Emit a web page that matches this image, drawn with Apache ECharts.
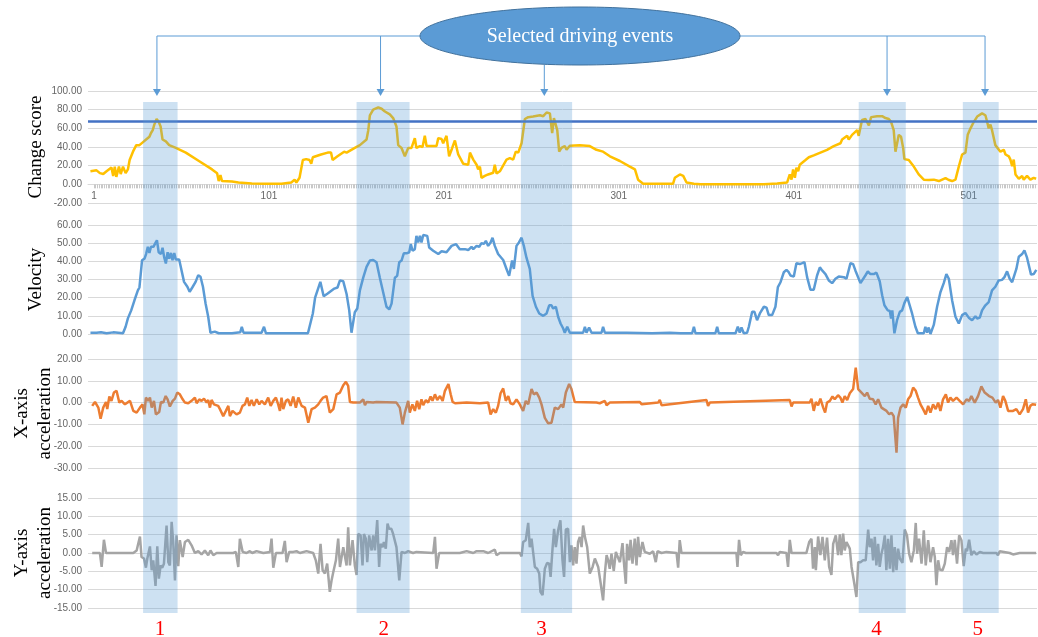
<!DOCTYPE html>
<html>
<head>
<meta charset="utf-8">
<script src="https://cdn.jsdelivr.net/npm/echarts@6/dist/echarts.min.js"></script>
<style>
  html, body { margin: 0; padding: 0; background: #fff; }
  #chart { width: 1038px; height: 637px; }
</style>
</head>
<body>
<div id="chart"></div>
<script>
// sample index (1-based) and value
const changeScore = [[-1,14],[2.5,15],[4.4,12],[6.3,11],[8.2,14],[11,18],[12,9],[12.9,19],[13.8,8],[15.3,19],[16.3,11],[17.6,19],[19.1,12],[20.4,16],[21.4,26],[23.3,35],[25.2,42],[27,42],[28.9,45],[30.8,48],[32.7,51],[33.6,55],[34.6,58],[35.5,64],[36.8,70],[38,67],[39.1,62],[40.2,48],[42.1,46],[44,42],[47.8,39],[53.5,34],[61,25],[68.5,16],[71.4,12],[72.3,3.5],[73.3,10],[74.2,3.5],[79.9,3],[83.6,2],[91.2,1],[98.7,0.7],[108.2,0.7],[113.8,2],[115.7,5],[116.7,2],[118.5,7],[120.4,26],[122.3,27],[124.2,26],[125.2,22],[126.1,29],[130.8,32],[134.6,34],[136.5,34],[137.4,26],[140.2,30],[144,35],[145.4,34],[150.1,39],[153,42],[156.8,48],[157.8,58],[158.7,74],[160.6,80],[163.5,82.5],[165.4,81],[167.3,78],[170.1,75],[172,71],[173.9,62],[174.9,42],[176.8,39],[178.7,30],[180.6,39],[182.5,39],[184.4,49.5],[185.3,39],[187.3,41],[188.8,40],[190.1,52],[191.1,41],[196.8,41],[197.8,49.5],[199.7,48.5],[200.6,44],[202.5,52],[204,30],[205.4,37],[206.3,42],[207.3,47],[209.2,32],[212.1,22],[214.9,21],[215.9,34],[217.8,26.5],[219.7,21],[220.6,16],[221.6,19],[222.5,7],[224.4,9],[226.3,10.6],[229.2,12.4],[230.1,21],[231.1,11.7],[233,14],[236.8,26.5],[238.7,28],[240.6,26.5],[242.1,35],[243.5,34],[245.4,44],[247.3,70],[249.2,72],[252,72.6],[255.9,74],[257.8,73],[259.7,77],[261.6,76],[262.9,55],[263.9,71],[265,73],[265.8,58],[266.9,35],[268.2,39],[270.1,41],[271.1,37],[273,41.4],[278.7,42],[284.4,41],[288.2,37],[292,35],[295.9,30],[301.6,25],[307.3,19],[310.2,16],[312,5],[314.9,0.7],[322.5,0.7],[332,0.7],[333,7],[335.9,10.6],[337.8,9],[339.7,2],[343.9,0.7],[347.7,0],[364.8,0],[383.9,0],[391.5,1],[397.2,2],[398.7,10.6],[399.7,5],[400.6,16],[401.6,7],[402.5,17.7],[403.5,14],[404.4,21],[407.7,26],[409.6,29],[412.4,31],[416.2,34],[420,37],[423.8,41],[427.7,44],[428.6,48],[429.6,46],[431.5,52],[432.4,48],[434.3,53],[435.3,51],[437.2,58],[438.1,52],[440,69],[442,70],[443.9,63],[445.2,72],[448.6,73],[451.5,73],[453.4,71],[455.3,70],[456.6,67],[458.1,58],[459.1,35],[460,37],[461,53],[462.3,51],[463.5,39],[464.2,27],[466.7,26],[469.6,19],[472.4,10.6],[475.3,5],[478.1,4.6],[481,5],[483.9,3.5],[487.7,6.7],[489.6,4.6],[491.5,3.5],[493.4,5],[495.3,19],[497.2,32],[499.1,34],[500.4,53],[502,60],[503.9,67],[505.8,72.6],[508.6,76],[510.5,74],[511.5,67],[512.4,60],[513.4,64],[514.3,58],[516.2,42],[519.1,35],[521,37],[522,32],[523.9,30],[524.8,26.5],[525.8,19.5],[526.7,26.5],[527.7,10.6],[529.6,6],[531.5,9],[532.4,5],[534.3,9],[536.2,5],[538.1,7],[539.5,6]];

const velocity = [[-1,0.7],[2.5,0.7],[5,1],[8.2,0.4],[12,0.9],[17.6,0.4],[19.1,4],[20.4,8.6],[22.3,13],[24.2,18.7],[26.1,24],[27,25.6],[28.5,40.6],[29.9,41.5],[30.8,44],[31.8,48],[32.7,44.6],[33.6,48],[35,48],[36.1,50],[37,51.6],[38,45],[39.3,44],[40.2,47.5],[41.2,42],[42.1,38.8],[43.1,45],[44,41.5],[45,44.6],[45.9,40.6],[46.9,44.6],[47.8,41],[49.7,41],[50.6,40.6],[52.5,28.7],[54.4,26],[55.7,23.2],[57.2,25.6],[59.1,28.7],[60.6,32.4],[61.9,31.5],[63.3,26],[64.8,16.8],[66.3,9.5],[67.6,0.7],[70.1,1.3],[72.3,0.4],[79.9,0.4],[84.6,0.9],[85.5,4],[86.5,0.7],[96.8,0.7],[98.2,4],[99.3,0.4],[110,0.4],[123.3,0.4],[126.1,11.3],[127.4,20],[128.5,20],[130.4,28.7],[132.3,20.8],[134.6,22.3],[138.4,25],[140.2,25.6],[141.6,29.5],[143.5,29],[145.4,22],[146.9,13],[148.2,0.7],[150.1,12],[151.5,14],[153,24],[154.9,31],[156.8,37],[158.7,40.4],[160.6,40.7],[162.5,39.5],[164.4,31],[166.3,23],[168.2,15],[169.8,13.5],[171.1,16.7],[173,31],[174.3,32],[175.5,39.5],[176.8,40.4],[178.1,44.4],[179.7,44.4],[181.2,45],[182.1,49.5],[183.1,45.8],[184.4,46.7],[185.3,54],[186.3,50.4],[187.3,54],[188.2,50.4],[189.2,54.5],[191.5,54],[192.6,47.6],[194.9,45.8],[197.8,44],[199.7,45.5],[202.5,45],[205.4,48.5],[207.9,49.5],[210.1,46.7],[213,46.7],[214.9,46.2],[216.8,48],[217.8,46.7],[219.7,48.5],[221.2,48],[222.5,50],[223.9,49.6],[225,51.3],[226.3,48.5],[227.7,50.4],[228.8,53],[230.1,48.5],[232,44],[234.9,40.7],[236.8,35.8],[238.3,32],[239.1,33],[240,40.4],[241,35.8],[242.5,48.5],[243.9,50.4],[245.4,53],[246.7,48.5],[248.2,42],[250.1,35.8],[251.7,21],[253.6,15],[255.5,11.3],[257.8,10],[259.7,11.3],[261.2,15.8],[262.5,15.8],[263.5,14],[265,15],[266.3,9.5],[267.7,5.8],[269.2,3],[270.1,0.7],[271.5,4],[273,0.7],[280.6,0.7],[281.6,4],[282.5,0.7],[284,3.6],[285.4,0.7],[291.1,0.7],[292,4],[293,0.7],[305.4,0.7],[320,0.4],[330.1,0.7],[336.2,0.4],[342.9,0.4],[343.9,4],[344.8,0.4],[356.2,0.4],[357.2,4],[358.1,0.4],[367.7,0.4],[369,4],[370.1,0.7],[371.1,3.6],[372.4,0.4],[374.3,0.7],[375.3,4],[377.2,12.2],[378.5,12.2],[380,7.6],[381.6,11.3],[383.9,15],[385.4,14.5],[386.7,10.4],[388.6,10.4],[390.5,15],[391.9,25.8],[393.4,28.5],[395.3,34],[396.8,35.3],[398.1,34],[399.1,32.2],[401,31.6],[402.5,39],[404.4,38.5],[405.8,39],[407.1,39.5],[408.6,31.3],[410.5,24.4],[412.4,24.4],[414.3,32.2],[415.9,36.7],[417.2,35],[419.1,33],[421,29.5],[422.9,28],[424.8,30.4],[426.7,31.6],[429.6,31.3],[431.1,30.4],[433.4,39],[434.9,38.5],[436.2,35],[439.1,28],[441.9,32.2],[443.3,34.4],[444.8,33],[446.7,33],[448.2,33.8],[450.1,29],[451.5,21.3],[452.8,15.8],[454.7,13],[455.9,12.7],[456.6,8.5],[457.3,13],[458.5,0.4],[460,7.6],[461.6,12.2],[462.9,13],[464.2,17],[465.8,20.4],[466.7,20],[468.6,11.3],[470.5,4],[471.9,0.4],[475.3,0.4],[476.2,4],[477.2,0.7],[478.1,3.6],[479.1,0],[481,5],[482.9,15],[484.8,23],[486.7,28],[488.2,33],[489.6,30.4],[491.5,18.5],[493.4,9.5],[495.3,5.8],[497.2,10.4],[499.1,11.6],[501,9],[502.9,7.6],[504.8,9.8],[505.8,8.5],[507.3,9],[508.6,13],[510.5,15.8],[512.4,17.6],[514.3,24],[516.2,26],[518.1,29.5],[520,29.8],[521.4,31.3],[522.9,34.5],[524.4,30.4],[525.8,28.5],[526.7,29],[528.2,35.8],[529.6,42.5],[531.5,44],[532.8,46],[534.3,42],[536.6,32.7],[538.1,33],[539.6,35.3]];

const xAccel = [[0,-1.5],[1.6,0.3],[3.5,-2.3],[4.8,-7.4],[6.3,-2.3],[7.9,0.3],[8.6,-3],[9.8,2.8],[11,0.8],[12.4,4.6],[13.9,5.4],[15.5,0],[16.8,0.8],[18.7,-0.8],[21.6,0.8],[23.5,-3.8],[25.4,-4.6],[27.3,-2.3],[28.8,-0.8],[29.8,-5.4],[30.7,2.3],[32,0.8],[33,2.3],[34,-2.3],[35.3,0.8],[36.4,-5.4],[38.3,-4.3],[39.3,0.3],[40.6,0],[42,3],[43.1,1.5],[44.4,-1.8],[46,0.8],[47.3,1.8],[48.6,4.6],[50.1,3.8],[51.7,1.5],[53,0],[54.9,-0.3],[56.8,0.8],[58.7,2.3],[59.7,-0.3],[61.2,1.5],[62.5,0.8],[63.9,1.8],[65.4,0],[66.3,1.2],[67.3,-2.3],[68.2,1.2],[69.6,-0.8],[72,-1.5],[73,-3],[74.9,-6.2],[76.4,-3.8],[77.8,-1.5],[78.7,-6.2],[80.2,-3.8],[82.5,-5.4],[84.4,-4.6],[85.9,-1.5],[87.3,-0.8],[88.6,2.3],[89.8,-1.5],[91.1,1.2],[92.4,-1.5],[94,1.5],[95.5,-0.8],[96.8,0.8],[98.7,-0.8],[100.6,2.3],[102,-1.5],[103.5,0.8],[105,2.3],[106.3,-0.8],[107.3,-3.8],[108.2,2.3],[109.2,-3],[110.7,0.8],[112,1.5],[113.4,-1.5],[114.9,2.8],[116.4,-2.3],[117.8,2.3],[119.7,-1.5],[121.6,-2.3],[123.5,-9.2],[125.4,-3],[127.3,-2.3],[129.2,-0.8],[130.5,0.8],[132,2.3],[133.9,3],[135.8,-4.6],[137.8,-3],[139.7,3.8],[141.6,4.6],[143.5,8],[145,9.5],[146.3,7.7],[147.3,0.3],[149.2,0],[153,0],[154.9,1.5],[155.9,-1.2],[156.8,0.3],[160.6,0],[162.5,0.3],[173.9,0],[175.8,-2.3],[177.4,-10],[178.7,-4.6],[180.6,0.8],[181.5,-4.6],[183,-0.8],[184.4,-3.8],[185.7,0.8],[186.9,-3],[188.2,1.5],[189.2,-1.2],[190.7,1.2],[192,0],[193.4,2.8],[194.5,0.8],[195.9,3.8],[197.2,1.2],[198.8,3],[200.3,0.8],[201.6,5.4],[203.6,8.5],[204.9,3.8],[206,0.3],[207.4,-0.3],[214,0],[221.6,-0.3],[226.3,0],[227.7,-5.4],[229.2,-3],[230.7,-4.6],[232,-1.5],[233.4,4.3],[234.9,6.5],[236.4,0.8],[237.8,3],[239.1,-0.3],[240.6,-0.8],[242.5,1.5],[244.4,-0.8],[246.3,-3.8],[247.8,0.8],[249.2,-0.8],[251.1,6.2],[252.4,3.8],[254,4.6],[255.5,2.3],[256.8,-0.8],[258.7,-7],[260.6,-9.5],[262.5,-9.2],[264.4,-2.3],[266.3,-3],[268.2,-0.8],[269.2,-2.3],[270.7,4.6],[272.6,8.5],[273.9,6.2],[275.8,0.3],[276.8,-0.3],[288.2,0],[289.2,0.8],[290.1,-0.3],[293,0.8],[294,-1.2],[295.8,0],[313,0.3],[314,-0.8],[323.5,0],[324.4,1.2],[325.4,-1.2],[351.1,1.2],[352,-1.5],[353,0],[398.7,1.2],[399.7,-1.8],[400.6,0],[410.1,0],[411.1,1.8],[412.4,-3.8],[413.6,0.3],[414.9,-1.2],[416.2,1.8],[417.8,-2.3],[418.9,-4.6],[420,0],[421.6,0.8],[423.1,2.8],[424.4,1.5],[426.3,3.4],[427.6,2.3],[428.8,0],[430.1,3],[431.5,1.2],[433,4.3],[434.9,6.2],[436.4,16],[437.8,6.2],[439.7,4.6],[441.6,3],[442.9,4.6],[444.4,1.8],[446.3,1.5],[447.8,-0.8],[449.2,1.5],[451.1,-2.3],[452.4,-3],[454,-3.8],[455.5,-5.4],[456.8,-4.6],[458.1,-6.2],[459.7,-23],[460.6,-7],[462,-2.3],[463.5,-0.8],[465,-2.3],[466.3,1.5],[467.7,3],[469.2,6.9],[470.7,5.4],[472,2.3],[473.4,-0.8],[474.9,-3],[476.4,-5.4],[477.8,-1.5],[479.1,-4.6],[480.6,-0.8],[482.1,-3],[483.5,0],[484.8,-3.8],[486.3,1.5],[487.9,3.8],[489.2,0],[490.5,2.3],[492,0.8],[494,2.3],[495.8,0.8],[497.8,-0.8],[499.7,1.5],[501.2,0.8],[502.5,3],[504.4,0],[506.3,3],[508.2,7.4],[510.1,4.6],[512.6,3],[514.5,2.3],[516.4,0],[517.7,1.2],[519.1,-2.3],[520.6,3],[521.9,0.8],[523.5,-3.8],[526.3,-3.8],[528.2,-3],[530.1,-5.4],[532,-3],[533.6,1.5],[534.9,-4.6],[536.2,-1.5],[537.4,-0.8],[539.5,-1]];

const yAccel = [[0,0],[4.4,0],[5.4,-3.8],[6.7,3.6],[7.9,0],[23.5,0],[25.4,0.7],[26.3,2.5],[27.3,4.5],[28.2,-1.1],[29.6,-1.5],[30.7,-4],[31.5,-1.5],[33,1.8],[34,-4.7],[34.9,-2],[36.2,-9],[37.2,1.8],[38.1,-7],[39.1,-3.4],[40,-4],[41,-2.9],[42.5,7.5],[43.5,-2.5],[44.4,-3.4],[45.4,8.5],[46.3,3],[47.3,-7.5],[48.2,4.8],[49.2,-3.6],[50.1,3.5],[51.7,-1.1],[53,3],[54.9,3.6],[56.8,2.1],[58.7,0],[60.6,0.5],[62.5,-0.4],[64.4,0.7],[66.3,-0.6],[67.6,0.7],[69.2,-0.6],[71.1,0],[80.6,0],[82.1,0.3],[83.5,-3.8],[84.4,3.9],[86,0.3],[88.2,0],[90.1,0.5],[91.5,0],[93.9,0.5],[97.8,0],[101.6,0.3],[102.5,3.9],[103.5,-4],[105,0],[108.8,0],[110.1,3.3],[111.1,-2.5],[112.6,0.3],[114.9,0.3],[116.8,0.5],[118.7,0],[122.5,0.5],[126.3,0],[127.8,-2],[129.2,-5.6],[130.5,2.5],[131.7,-4.7],[133,-5.6],[134.3,-2.9],[135.8,-10.6],[136.8,-7.5],[137.8,-5.2],[139.3,-2],[140.6,3.9],[141.6,-3.8],[142.5,-3.8],[143.5,1.6],[145.4,-3.4],[146.3,7],[147.3,-3.4],[148.8,3.5],[150.1,-3.4],[151.1,-6],[152,5.2],[153.4,4.8],[154.5,-3.4],[155.3,5.2],[156.4,3.9],[157.2,-2.5],[158.3,4.8],[159.7,0.7],[160.6,4.8],[161.6,0.7],[162.9,9],[164,-3.8],[164.8,2.5],[166,1.6],[166.7,3],[167.8,1.2],[168.8,8],[169.7,6.6],[171,6.6],[172,5.2],[173.9,1.6],[175.5,-7.5],[176.8,0.3],[178.7,0],[180.6,0.5],[183.4,0],[185.3,0.3],[194.9,0],[195.9,4.4],[196.8,-4.3],[198.3,0],[206.3,0],[207.3,0.5],[210.1,0],[214,0.5],[217.8,0],[219.7,0.5],[223.5,0.5],[226.3,0],[230.1,0.9],[231.1,-0.6],[233,0],[244.4,0],[245.4,-0.9],[246.3,3],[247.8,3.5],[249.2,8.2],[250.1,1.6],[251.1,3.9],[252,3.5],[253,-3.8],[254.3,-4.3],[255.5,-5.6],[256.2,-10.6],[257.4,-11.5],[258.7,-4.3],[260,-2.7],[261.2,-2.9],[262,-6.5],[263.1,1.2],[264,6.6],[265,1.6],[266.3,6.2],[267.6,8.9],[268.8,-2],[269.7,-6.5],[270.7,6.4],[272,6.6],[273,-2.5],[273.9,2.1],[274.9,-3.4],[275.8,1.6],[276.8,-2.9],[277.7,3],[278.7,4.4],[279.7,1.6],[280.6,7.5],[281.6,4.4],[282.9,1.6],[284.4,-5.6],[286,-3.8],[287.3,-1.5],[288.2,-2],[289.2,-3.8],[290.5,-7.9],[292,-12.9],[293,-5.6],[294,-0.6],[294.9,-2],[295.8,-4.3],[296.8,-0.2],[298.1,-4.9],[299.3,0.3],[300,-0.6],[301.6,-2.5],[303.1,2.7],[303.8,-2],[305,-8.4],[305.7,2.5],[306.9,-2],[307.7,3.6],[308.8,-2.9],[310.1,3.9],[311.1,-3.4],[312,4.4],[313,-1.1],[314.5,3],[315.8,0.3],[318.7,-0.2],[320.6,0.5],[322.1,-2.5],[323.1,0.5],[325.4,0],[328.2,0.3],[334,0],[334.9,-4],[335.8,3.5],[336.8,0],[347.3,0],[348.2,0.5],[349.2,0],[368.2,0],[368.8,-3.8],[369.7,3.6],[370.7,-0.6],[372,0.3],[373.6,0],[391.1,0],[392,-0.6],[393,0.3],[396.8,0],[397.7,-3.8],[398.7,3.6],[399.7,0],[408.2,0],[409.8,3],[411.1,3.9],[412,-4.3],[413,1.6],[413.6,-4.7],[414.9,4.5],[416.2,-0.6],[417.4,4.4],[418.7,-2],[420,4.2],[421.2,-3.8],[422.5,-6],[423.5,2.5],[425,4.8],[426.3,-0.6],[427.3,5.1],[428.2,-0.6],[429.2,5.3],[430.1,0.7],[431.1,3],[432,3.5],[433,1.2],[434,-3.8],[435.3,-7.5],[436.8,-12],[437.8,-2.5],[439.1,-2.5],[440.6,-2],[442.1,-2],[443.5,6.4],[444.4,1.6],[445.4,3.9],[446.3,-2],[447.3,4.4],[448.2,-3.4],[449.2,2.5],[450.1,-3.8],[451.1,-0.2],[452,1.6],[453,4.8],[453.9,-4.7],[454.9,3.9],[455.9,-4.3],[456.8,4.8],[457.8,-5.2],[458.7,1.6],[459.7,-4.7],[460.6,1.2],[461.6,-1.5],[463.1,-2.7],[464.4,6.4],[465.7,4.8],[466.9,-0.2],[468.2,-2.5],[469.6,0.7],[470.7,8.2],[471.5,-0.2],[472.6,3.9],[474,-2.9],[475.3,6.2],[476.4,-3.4],[477.8,3.5],[479.1,-2.5],[480.6,1.6],[481.6,-1.1],[482.5,-8.8],[483.5,-2],[484.4,-4.5],[486,-4.7],[487.3,-2.9],[488.6,1.6],[489.8,0.3],[491.1,3.5],[492,-0.6],[493,3.6],[494.3,-2.9],[495.5,4.8],[496.8,3.5],[498.1,-3.6],[499.3,1.2],[500,0.5],[501.2,3.6],[502.5,-0.6],[503.9,0.5],[505.4,-0.4],[507.3,0.3],[509.2,0],[516.8,0],[517.7,-0.6],[518.7,0.5],[524.4,0],[525.4,0.5],[526.3,-0.4],[530.1,0],[531.1,0.5],[539.5,0]];

const threshold = 68;
const xTickLabels = [1, 101, 201, 301, 401, 501];
// selected events: start / end index of each shaded band, arrow and number positions
const eventStart = [29.1, 151.1, 245, 438.1, 497.6];
const eventEnd = [48.8, 181.4, 274.3, 465, 518.1];
const eventArrowX = [37, 164.8, 258.4, 454.3, 510.3];
const eventLabelX = [38.7, 166.7, 256.8, 448.3, 506.1];
const eventNames = ['1', '2', '3', '4', '5'];
const calloutText = 'Selected driving events';

const dense = [];
for (let i = 1; i <= 539; i++) dense.push(i);

const chart = echarts.init(document.getElementById('chart'));

const grids = [
  { left: 88, right: 1, top: 91, height: 112, outerBoundsMode: 'none' },
  { left: 88, right: 1, top: 225, height: 109, outerBoundsMode: 'none' },
  { left: 88, right: 1, top: 359, height: 109, outerBoundsMode: 'none' },
  { left: 88, right: 1, top: 498, height: 110, outerBoundsMode: 'none' },
];
const yRanges = [
  { min: -20, max: 100, interval: 20, name: 'Change score', gap: 40 },
  { min: 0, max: 60, interval: 10, name: 'Velocity', gap: 40 },
  { min: -30, max: 20, interval: 10, name: 'X-axis\nacceleration', gap: 31 },
  { min: -15, max: 15, interval: 5, name: 'Y-axis\nacceleration', gap: 31 },
];

const xAxes = grids.map((g, i) => ({
  type: 'value',
  gridIndex: i,
  min: -2.4,
  max: 540,
  show: i === 0,
  splitLine: { show: false },
  axisLine: { onZero: true, lineStyle: { color: '#d9d9d9', width: 1 } },
  axisTick: { customValues: dense, length: 4, lineStyle: { color: '#c8c8c8' } },
  axisLabel: { customValues: xTickLabels, color: '#666', fontSize: 10, fontFamily: 'Liberation Sans', margin: -12 },
}));

const yAxes = yRanges.map((r, i) => ({
  type: 'value',
  gridIndex: i,
  min: r.min,
  max: r.max,
  interval: r.interval,
  name: r.name,
  nameLocation: 'middle',
  nameRotate: 90,
  nameGap: r.gap,
  nameMoveOverlap: false,
  nameTextStyle: { fontFamily: 'Liberation Serif', fontSize: 19, color: '#000', lineHeight: 23 },
  axisLine: { show: false },
  axisTick: { show: false },
  axisLabel: { color: '#666', fontSize: 10, fontFamily: 'Liberation Sans', margin: 6,
    formatter: v => v.toFixed(2) },
  splitLine: { lineStyle: { color: '#d9d9d9', width: 1 } },
}));

function lineSeries(data, idx, color, extra) {
  return Object.assign({
    type: 'line',
    xAxisIndex: idx,
    yAxisIndex: idx,
    data: data,
    showSymbol: false,
    lineStyle: { color: color, width: 2.5 },
    itemStyle: { color: color },
    animation: false,
  }, extra || {});
}

chart.setOption({
  animation: false,
  grid: grids,
  xAxis: xAxes,
  yAxis: yAxes,
  series: [
    lineSeries(changeScore, 0, '#FFC000', {
      markLine: {
        silent: true,
        symbol: 'none',
        label: { show: false },
        lineStyle: { color: '#4472C4', width: 2.5, type: 'solid' },
        data: [{ yAxis: threshold }],
      },
    }),
    lineSeries(velocity, 1, '#5B9BD5'),
    lineSeries(xAccel, 2, '#ED7D31'),
    lineSeries(yAccel, 3, '#A5A5A5'),
  ],
});

// callout, shaded event bands, arrows and numbers placed with the x scale
const px = v => chart.convertToPixel({ xAxisIndex: 0 }, v);
const bandTop = 102, bandBottom = 613;
const lineY = 36, tipY = 96;
const ell = { cx: 580, cy: 36, rx: 160, ry: 29 };
const arrowColor = '#5B9BD5';
const gfx = [];

eventStart.forEach((s, k) => {
  const x0 = px(s), x1 = px(eventEnd[k]);
  gfx.push({
    type: 'rect', z: 10, silent: true,
    shape: { x: x0, y: bandTop, width: x1 - x0, height: bandBottom - bandTop },
    style: { fill: 'rgba(91,155,213,0.3)' },
  });
});

const ax = eventArrowX.map(px);
gfx.push({
  type: 'line', z: 20,
  shape: { x1: ax[0], y1: lineY, x2: ax[ax.length - 1], y2: lineY },
  style: { stroke: arrowColor, lineWidth: 1 },
});
ax.forEach((x, k) => {
  const startY = k === 2 ? ell.cy + ell.ry : lineY;
  gfx.push({
    type: 'line', z: 20,
    shape: { x1: x, y1: startY, x2: x, y2: tipY - 6 },
    style: { stroke: arrowColor, lineWidth: 1 },
  });
  gfx.push({
    type: 'polygon', z: 20,
    shape: { points: [[x - 4, tipY - 7], [x + 4, tipY - 7], [x, tipY]] },
    style: { fill: arrowColor },
  });
});
gfx.push({
  type: 'ellipse', z: 21,
  shape: ell,
  style: { fill: '#5B9BD5', stroke: '#41719C', lineWidth: 1 },
});
gfx.push({
  type: 'text', z: 22, x: ell.cx, y: ell.cy + 1,
  style: { text: calloutText, fill: '#fff', font: '20px "Liberation Serif"', align: 'center', verticalAlign: 'middle' },
});
eventLabelX.forEach((v, k) => {
  gfx.push({
    type: 'text', z: 22, x: px(v), y: 629,
    style: { text: eventNames[k], fill: '#FF0000', font: '21px "Liberation Serif"', align: 'center', verticalAlign: 'middle' },
  });
});

chart.setOption({ graphic: gfx });
</script>
</body>
</html>
